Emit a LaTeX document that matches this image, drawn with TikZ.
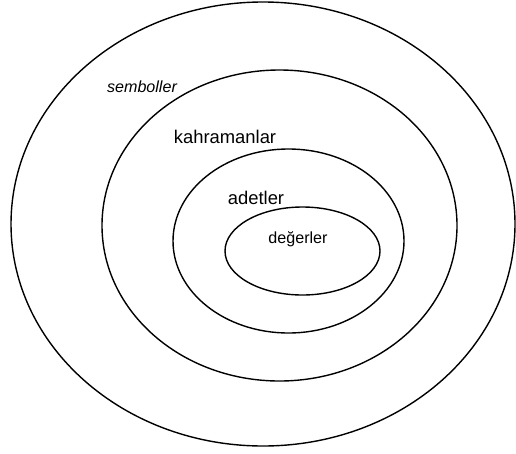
\documentclass[tikz,border=0pt]{standalone}
\usepackage{fontspec}
\setmainfont{Liberation Sans}
\usepackage{tikz}
\usetikzlibrary{positioning}

\begin{document}
\begin{tikzpicture}[
    x=1pt, y=-1pt,
    ring/.style={draw, line width=1.4pt},
    biglabel/.style={font=\fontsize{18.4}{20}\selectfont, inner sep=0pt},
    smalllabel/.style={font=\fontsize{16.1}{18}\selectfont, inner sep=0pt}
]
    \useasboundingbox (0,0) rectangle (516,453);

    % Layers
    \draw[ring] (263,224) ellipse [x radius=252, y radius=222];
    \draw[ring] (279.5,225.5) ellipse [x radius=177.5, y radius=155.5];
    \draw[ring] (288.5,241) ellipse [x radius=115.5, y radius=92];
    \draw[ring] (302.5,251) ellipse [x radius=77.5, y radius=44];

    % Labels
    \node[smalllabel, font=\fontsize{16.1}{18}\selectfont\itshape] (sembol) at (142,87) {semboller};
    \node[biglabel] (kahraman) at (225,137) {kahramanlar};
    \node[biglabel] (adet) at (256,198) {adetler};
    \node[smalllabel] (deger) at (298,239) {değerler};
\end{tikzpicture}
\end{document}
